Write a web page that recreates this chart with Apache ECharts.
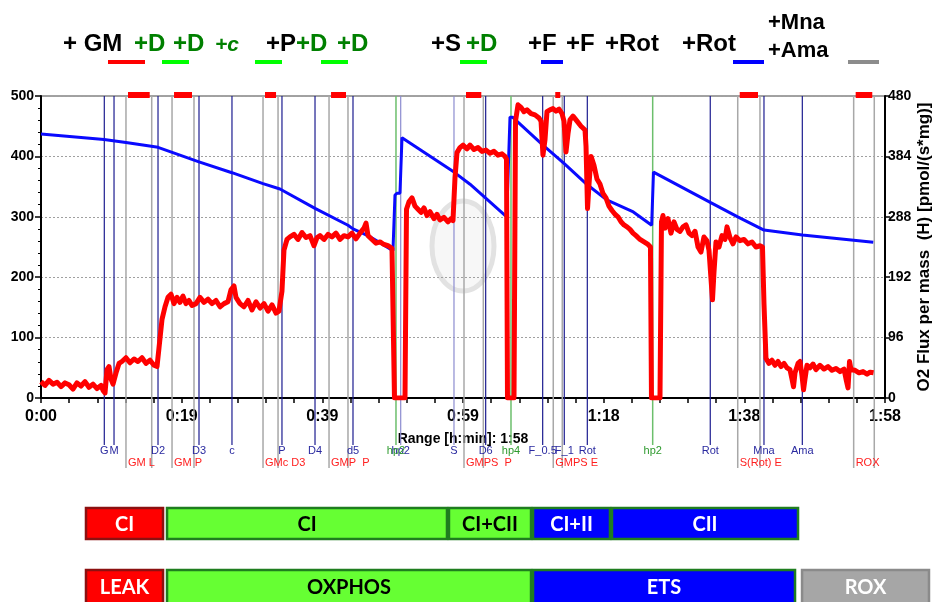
<!DOCTYPE html>
<html><head><meta charset="utf-8">
<script src="https://cdn.jsdelivr.net/npm/echarts@6/dist/echarts.min.js"></script>
<style>html,body{margin:0;padding:0;background:#fff}#c{width:933px;height:602px}</style>
</head><body><div id="c"></div><script>
// ---------- data ----------
const xTicks = ['0:00','0:19','0:39','0:59','1:18','1:38','1:58'];
const leftTicks = [0,100,200,300,400,500];
const rightTicks = [0,96,192,288,384,480];

// O2 flux per mass (red, right axis) – time in minutes
const fluxTime = [0,0.56,1.12,1.68,2.24,2.80,3.36,3.91,4.47,5.03,5.59,6.15,6.71,7.27,7.83,8.39,8.67,8.95,9.23,9.51,9.79,10.07,10.49,10.91,11.32,11.88,12.44,13.00,13.56,14.12,14.68,15.24,15.80,16.22,16.50,16.92,17.34,17.76,18.18,18.59,19.01,19.43,19.85,20.27,20.69,21.11,21.67,22.23,22.79,23.35,23.91,24.47,25.03,25.59,26.14,26.56,26.98,27.26,27.82,28.38,28.94,29.50,30.06,30.62,31.18,31.74,32.30,32.86,33.27,33.69,33.97,34.39,34.81,35.37,35.93,36.49,37.05,37.61,38.17,38.59,39.01,39.57,40.12,40.68,41.24,41.80,42.36,42.92,43.48,44.04,44.60,45.16,45.44,45.72,46.28,46.84,47.40,47.95,48.51,49.07,49.28,49.42,50.89,51.10,51.45,51.87,52.29,52.71,53.13,53.55,53.97,54.39,54.95,55.37,55.78,56.34,56.90,57.32,57.60,57.88,58.16,58.58,59.00,59.56,59.98,60.54,61.10,61.66,62.22,62.77,63.33,63.89,64.45,64.87,65.08,65.22,66.13,66.34,66.69,67.11,67.53,67.95,68.51,69.07,69.63,69.91,70.18,70.46,70.74,71.16,71.58,72.00,72.42,72.84,73.12,73.40,73.68,73.96,74.38,74.94,75.50,76.06,76.20,76.41,76.62,76.90,77.31,77.73,78.15,78.57,78.99,79.41,79.83,80.25,80.67,81.09,81.51,81.93,82.35,82.77,83.19,83.75,84.31,84.87,85.21,85.35,86.54,86.75,86.96,87.24,87.66,88.08,88.50,88.92,89.34,89.76,90.18,90.60,91.02,91.44,91.86,92.27,92.69,93.11,93.39,93.67,93.88,94.09,94.37,94.79,95.21,95.63,95.91,96.33,96.75,97.17,97.73,98.29,98.85,99.41,99.96,100.52,100.87,101.08,101.36,101.78,102.20,102.62,103.04,103.46,103.88,104.30,104.72,105.00,105.21,105.42,105.84,106.12,106.40,106.61,106.81,107.09,107.51,107.93,108.35,108.91,109.47,110.03,110.59,111.15,111.71,112.27,112.55,112.83,113.04,113.25,113.81,114.37,114.93,115.49,115.91,116.40];
const fluxValue = [26,20,28,22,25,18,24,21,14,24,19,26,17,22,15,20,12,8,45,50,30,22,40,55,58,64,56,62,58,64,55,60,52,50,80,125,145,160,165,150,160,152,162,150,155,147,150,160,152,157,150,155,145,150,153,172,178,160,150,145,155,140,153,143,150,138,148,135,138,170,235,252,256,260,252,263,255,258,242,255,258,252,260,256,262,252,258,256,262,253,262,270,278,258,252,246,248,244,242,238,235,0,0,300,312,318,305,300,295,302,290,296,285,292,283,287,280,285,282,350,390,398,402,396,402,395,398,392,394,389,392,386,388,384,380,0,0,440,466,462,455,458,452,450,445,440,386,410,455,458,460,456,459,452,440,391,420,442,448,440,432,426,400,301,340,384,370,348,340,325,318,305,298,292,288,280,275,272,268,262,258,252,248,244,240,0,0,280,290,270,285,262,280,268,265,272,275,262,258,265,240,232,256,250,235,190,156,200,248,240,258,252,272,255,245,256,250,252,245,248,240,242,240,150,63,55,60,52,58,50,55,48,45,30,18,40,55,58,35,13,30,52,48,54,45,52,46,50,44,47,42,46,30,16,58,45,44,40,42,38,41,40];

// O2 concentration (blue, left axis)
const o2Time = [0,8.81,11.88,16.36,22.09,26.70,31.04,33.41,38.31,42.92,43.62,46.00,49.21,49.49,49.77,50.19,50.47,57.74,59.98,65.11,65.57,65.92,70.14,73.16,76.38,79.09,82.81,85.38,85.63,93.57,97.41,101.08,106.44,116.36];
const o2Value = [437,428,423,415,391,373,355,346,314,286,280,267,244,336,339,339,431,374,354,300,465,465,419,388,353,328,308,286,374,324,300,278,270,258];

// events
const blueEventNames = ['G','M','D2','D3','c','P','D4','d5','hp2','S','D6','F_0.5','F_1','Rot','Rot','Mna','Ama'];
const blueEventTimes = [8.85,10.21,16.36,22.09,26.70,33.69,38.31,43.62,50.29,57.74,62.17,70.14,73.16,76.38,93.57,101.08,106.44];
const greenEventNames = ['hp2','hp4','hp2'];
const greenEventTimes = [49.63,65.71,85.52];
const markNames = ['GM L','GM P','GMc D3','GMP  P','GMPS  P','GMPS E','S(Rot) E','ROX'];
const markStart = [11.88,18.32,31.04,40.27,59.14,71.62,97.41,113.62];
const markEnd = [15.48,21.39,33.14,42.92,61.84,72.88,100.52,116.50];

// respiratory state boxes
const stateRow1 = ['CI','CI','CI+CII','CI+II','CII'];
const stateRow1Start = [6.15,17.48,56.90,68.65,79.69];
const stateRow1End = [17.20,56.90,68.65,79.69,105.98];
const stateRow2 = ['LEAK','OXPHOS','ETS','ROX'];
const stateRow2Start = [6.15,17.48,68.65,106.26];
const stateRow2End = [17.20,68.65,105.56,124.29];

// ---------- styling ----------
const SANS = '"Liberation Sans",Arial,sans-serif';
const BOX = '"Lato","Open Sans",sans-serif';
const XINT = 118/6;
const faintBlue = new Set([8,9]);
const row1Kinds = ['red','green','green','blue','blue'];
const row2Kinds = ['red','green','blue','gray'];
const boxStyle = {
  red:{fill:'#ff0000',stroke:'#8c1010',text:'#ffffff'},
  green:{fill:'#66ff33',stroke:'#1f7d1f',text:'#000000'},
  blue:{fill:'#0000ff',stroke:'#1f7d1f',text:'#ffffff'},
  gray:{fill:'#a6a6a6',stroke:'#8a8a8a',text:'#ffffff'}
};

const chart = echarts.init(document.getElementById('c'));

function vline(x,y1,y2,color,w){
  return {type:'line',shape:{x1:x,y1:y1,x2:x,y2:y2},style:{stroke:color,lineWidth:w}};
}
function label(text,x,y,color,align){
  return {type:'text',style:{text:text,x:x,y:y,fill:color,align:align,verticalAlign:'middle',
    font:'11px '+SANS}};
}

function renderBlue(params, api){
  const i = params.dataIndex;
  const top = api.coord([api.value(0),500]);
  const bot = api.coord([api.value(0),0]);
  const col = faintBlue.has(i) ? '#8c8cd0' : '#1c1c90';
  return {type:'group',children:[
    vline(top[0],top[1],bot[1]+47,col,1.2),
    label(blueEventNames[i],top[0],bot[1]+53,'#2a2aa0','center')
  ]};
}
function renderGreen(params, api){
  const i = params.dataIndex;
  const top = api.coord([api.value(0),500]);
  const bot = api.coord([api.value(0),0]);
  return {type:'group',children:[
    vline(top[0],top[1],bot[1]+47,'#6cbf6c',1.5),
    label(greenEventNames[i],top[0],bot[1]+53,'#2e9a2e','center')
  ]};
}
function renderMarks(params, api){
  const i = params.dataIndex;
  const a = api.coord([api.value(0),500]);
  const b = api.coord([api.value(1),500]);
  const bot = api.coord([api.value(0),0]);
  return {type:'group',children:[
    vline(a[0],a[1],bot[1]+70,'#a8a8a8',1.5),
    vline(b[0],b[1],bot[1]+70,'#a8a8a8',1.5),
    {type:'rect',shape:{x:a[0]+2,y:a[1]-4,width:b[0]-a[0]-4,height:6},style:{fill:'#ff0000'}},
    label(markNames[i],a[0]+2,bot[1]+65,'#ff2020','left')
  ]};
}
function makeBoxRenderer(names,kinds,y0,h){
  return function(params, api){
    const i = params.dataIndex;
    const a = api.coord([api.value(0),0]);
    const b = api.coord([api.value(1),0]);
    const s = boxStyle[kinds[i]];
    return {type:'group',children:[
      {type:'rect',shape:{x:a[0]+1,y:a[1]+y0,width:b[0]-a[0]-2,height:h},
        style:{fill:s.fill,stroke:s.stroke,lineWidth:2.5}},
      {type:'text',style:{text:names[i],x:(a[0]+b[0])/2,y:a[1]+y0+h/2+1,fill:s.text,
        align:'center',verticalAlign:'middle',font:'bold 20px '+BOX}}
    ]};
  };
}

// header
const headerText = [
  ['+ GM',63,44,'#000',24,'normal'],['+D',134,44,'#008000',24,'normal'],['+D',173,44,'#008000',24,'normal'],
  ['+c',215,45,'#008000',21,'italic'],['+P',266,44,'#000',24,'normal'],['+D',296,44,'#008000',24,'normal'],
  ['+D',337,44,'#008000',24,'normal'],['+S',431,44,'#000',24,'normal'],['+D',466,44,'#008000',24,'normal'],
  ['+F',528,44,'#000',24,'normal'],['+F',566,44,'#000',24,'normal'],['+Rot',605,44,'#000',24,'normal'],
  ['+Rot',682,44,'#000',24,'normal'],['+Mna',768,23,'#000',22,'normal'],['+Ama',768,51,'#000',22,'normal']
];
const headerLines = [[108,145,'#ff0000'],[162,189,'#00ff00'],[255,282,'#00ff00'],[321,348,'#00ff00'],
  [460,487,'#00ff00'],[541,563,'#0000ff'],[733,764,'#0000ff'],[848,879,'#8c8c8c']];
const graphics = [];
headerText.forEach(h=>graphics.push({type:'text',left:h[1],top:h[2]-h[4]*0.5,z:10,
  style:{text:h[0],fill:h[3],font:h[5]+' bold '+h[4]+'px '+SANS}}));
headerLines.forEach(l=>graphics.push({type:'rect',shape:{x:l[0],y:60,width:l[1]-l[0],height:4},style:{fill:l[2]}}));
// faint watermark
graphics.push({type:'ellipse',shape:{cx:463,cy:246,rx:31,ry:45},style:{fill:'#f7f7f7',stroke:'#e2e2e2',lineWidth:5},z:-1});

chart.setOption({
  animation:false,
  backgroundColor:'#ffffff',
  graphic:graphics,
  grid:{left:41,right:48,top:96,bottom:204,outerBoundsMode:'none',containLabel:false,
    show:true,borderColor:'#444',borderWidth:1,backgroundColor:'rgba(0,0,0,0)'},
  xAxis:{type:'value',min:0,max:118,interval:XINT,
    axisLine:{show:true,onZero:false,lineStyle:{color:'#000',width:2}},
    axisTick:{show:true,length:5,lineStyle:{color:'#000',width:1.5}},
    minorTick:{show:true,splitNumber:5,length:5,lineStyle:{color:'#000',width:1.5}},
    axisLabel:{formatter:v=>xTicks[Math.round(v/XINT)],fontFamily:SANS,fontWeight:'bold',fontSize:16,color:'#000',margin:11,showMaxLabel:true,showMinLabel:true},
    splitLine:{show:false},
    name:'Range [h:min]: 1:58',nameLocation:'middle',nameGap:34,nameMoveOverlap:false,
    nameTextStyle:{fontFamily:SANS,fontWeight:'bold',fontSize:14,color:'#000'}},
  yAxis:[
    {type:'value',min:0,max:500,interval:100,position:'left',
      axisLine:{show:true,lineStyle:{color:'#000',width:2}},
      axisTick:{show:true,length:6,lineStyle:{color:'#000',width:1.5}},
      minorTick:{show:true,splitNumber:5,length:3,lineStyle:{color:'#000',width:1}},
      axisLabel:{formatter:v=>String(leftTicks[Math.round(v/100)]),fontFamily:SANS,fontWeight:'bold',fontSize:14,color:'#000',margin:7},
      splitLine:{show:true,lineStyle:{color:'#a0a0a0',type:[2,2],width:1}}},
    {type:'value',min:0,max:480,interval:96,position:'right',
      axisLine:{show:true,lineStyle:{color:'#000',width:2}},
      axisTick:{show:true,length:5,lineStyle:{color:'#000',width:1.5}},
      axisLabel:{formatter:v=>String(rightTicks[Math.round(v/96)]),fontFamily:SANS,fontWeight:'bold',fontSize:14,color:'#000',margin:3},
      splitLine:{show:false},
      name:'O2 Flux per mass  (H) [pmol/(s*mg)]',nameLocation:'middle',nameRotate:90,nameGap:31,nameMoveOverlap:false,
      nameTextStyle:{fontFamily:SANS,fontWeight:'bold',fontSize:17,color:'#000'}}
  ],
  series:[
    {type:'custom',name:'marks',z:1,clip:false,data:markStart.map((t,i)=>[t,markEnd[i]]),encode:{x:[0,1]},renderItem:renderMarks,silent:true},
    {type:'custom',name:'blueEvents',z:1,clip:false,data:blueEventTimes.map(t=>[t]),encode:{x:0},renderItem:renderBlue,silent:true},
    {type:'custom',name:'greenEvents',z:1,clip:false,data:greenEventTimes.map(t=>[t]),encode:{x:0},renderItem:renderGreen,silent:true},
    {type:'custom',name:'row1',z:1,clip:false,data:stateRow1Start.map((t,i)=>[t,stateRow1End[i]]),encode:{x:[0,1]},renderItem:makeBoxRenderer(stateRow1,row1Kinds,110,31),silent:true},
    {type:'custom',name:'row2',z:1,clip:false,data:stateRow2Start.map((t,i)=>[t,stateRow2End[i]]),encode:{x:[0,1]},renderItem:makeBoxRenderer(stateRow2,row2Kinds,172,34),silent:true},
    {type:'line',name:'O2 concentration',yAxisIndex:0,z:3,showSymbol:false,data:o2Time.map((t,i)=>[t,o2Value[i]]),
      lineStyle:{color:'#0a0aff',width:3},itemStyle:{color:'#0a0aff'}},
    {type:'line',name:'O2 flux',yAxisIndex:1,z:4,showSymbol:false,data:fluxTime.map((t,i)=>[t,fluxValue[i]]),
      lineStyle:{color:'#ff0000',width:5,join:'round'},itemStyle:{color:'#ff0000'}}
  ]
});
</script></body></html>
